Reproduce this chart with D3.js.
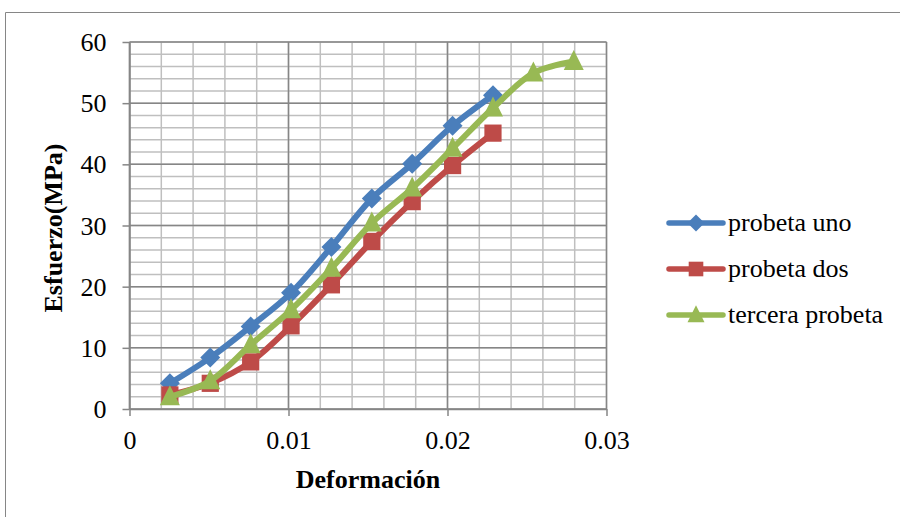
<!DOCTYPE html>
<html><head><meta charset="utf-8">
<script src="https://cdn.jsdelivr.net/npm/d3@7"></script>
<style>body{margin:0;background:#fff}svg{display:block}</style>
</head><body><svg id="c" width="900" height="517"></svg>
<script>
const xValues = [0.00254, 0.00508, 0.00762, 0.01016, 0.0127, 0.01524, 0.01778, 0.02032, 0.02286, 0.0254, 0.02794];
const seriesNames = ["probeta uno", "probeta dos", "tercera probeta"];
const probetaUno = [4.2, 8.4, 13.5, 19.0, 26.5, 34.4, 40.1, 46.3, 51.3];
const probetaDos = [2.3, 4.2, 7.7, 13.6, 20.3, 27.4, 33.9, 39.8, 45.1];
const terceraProbeta = [2.0, 4.6, 10.5, 16.2, 23.0, 30.4, 36.1, 42.6, 49.2, 54.9, 56.8];
const xTicks = [0, 0.01, 0.02, 0.03];
const yTicks = [0, 10, 20, 30, 40, 50, 60];
const colors = ["#4a7ebb", "#be4b48", "#98b954"];
const markers = ["diamond", "square", "triangle"];
const FONT = '"Liberation Serif", "Times New Roman", serif';

const svg = d3.select("#c");
svg.append("path").attr("d","M5.5,530V12.5H910").attr("fill","none").attr("stroke","#868686").attr("stroke-width",1);

const x = d3.scaleLinear().domain([0,0.03]).range([129.5,606.5]);
const y = d3.scaleLinear().domain([0,60]).range([409,42]);

const g = svg.append("g");
const xMinor = d3.range(0, 0.03001, 0.002);
const yMinor = d3.range(0, 60.001, 2);
g.selectAll(".vm").data(xMinor).join("line").attr("x1",d=>x(d)).attr("x2",d=>x(d)).attr("y1",y(0)).attr("y2",y(60)).attr("stroke","#bfbfbf").attr("stroke-width",1.5);
g.selectAll(".hm").data(yMinor).join("line").attr("y1",d=>y(d)).attr("y2",d=>y(d)).attr("x1",x(0)).attr("x2",x(0.03)).attr("stroke","#bfbfbf").attr("stroke-width",1.5);
g.selectAll(".vM").data(xTicks).join("line").attr("x1",d=>x(d)).attr("x2",d=>x(d)).attr("y1",y(0)).attr("y2",y(60)).attr("stroke","#868686").attr("stroke-width",1.5);
g.selectAll(".hM").data(yTicks).join("line").attr("y1",d=>y(d)).attr("y2",d=>y(d)).attr("x1",x(0)).attr("x2",x(0.03)).attr("stroke","#868686").attr("stroke-width",1.5);

const xAxis = d3.axisBottom(x).tickValues(xTicks).tickSize(7).tickSizeOuter(0).tickFormat(d=>d===0?"0":d3.format(".2f")(d));
const xa = svg.append("g").attr("transform",`translate(0,${y(0)})`).call(xAxis);
xa.attr("font-family",null).attr("font-size",null);
xa.select(".domain").attr("stroke","#868686").attr("stroke-width",1.5);
xa.selectAll(".tick line").attr("stroke","#868686").attr("stroke-width",1.5);
xa.selectAll(".tick text").style("font-family",FONT).style("font-size","26px").attr("fill","#000").attr("y",null).attr("dy",null).attr("transform","translate(0,40)");
const yAxis = d3.axisLeft(y).tickValues(yTicks).tickSize(7).tickSizeOuter(0);
const ya = svg.append("g").attr("transform",`translate(${x(0)},0)`).call(yAxis);
ya.attr("font-family",null).attr("font-size",null);
ya.select(".domain").attr("stroke","#868686").attr("stroke-width",1.5);
ya.selectAll(".tick line").attr("stroke","#868686").attr("stroke-width",1.5);
ya.selectAll(".tick text").style("font-family",FONT).style("font-size","26px").attr("fill","#000").attr("x",-23).attr("dy","0.33em");

svg.append("text").attr("x",368).attr("y",488).attr("text-anchor","middle").style("font-family",FONT).style("font-size","26px").attr("font-weight","bold").text("Deformación");
svg.append("text").attr("transform","translate(62,228) rotate(-90)").attr("text-anchor","middle").style("font-family",FONT).style("font-size","26px").attr("font-weight","bold").text("Esfuerzo(MPa)");

const data = [probetaUno, probetaDos, terceraProbeta];
const line = d3.line().x(d=>x(d[0])).y(d=>y(d[1])).curve(d3.curveCatmullRom.alpha(0.5));

function marker(sel, type, color, s){
  if(type==="diamond") sel.append("path").attr("d",`M0,${-s/2}L${s/2},0L0,${s/2}L${-s/2},0Z`).attr("fill",color);
  else if(type==="square") sel.append("rect").attr("x",-s*0.43).attr("y",-s*0.43).attr("width",s*0.86).attr("height",s*0.86).attr("fill",color);
  else sel.append("path").attr("d",`M0,${-s*0.58}L${s/2},${s*0.42}L${-s/2},${s*0.42}Z`).attr("fill",color);
}

data.forEach((vals,i)=>{
  const pts = vals.map((v,j)=>[xValues[j],v]);
  svg.append("path").datum(pts).attr("d",line).attr("fill","none").attr("stroke",colors[i]).attr("stroke-width",6).attr("stroke-linejoin","round").attr("stroke-linecap","round");
  pts.forEach(p=>{
    const m = svg.append("g").attr("transform",`translate(${x(p[0])},${y(p[1])})`);
    marker(m, markers[i], colors[i], 20);
  });
});

const legendY = [223, 269, 315];
seriesNames.forEach((n,i)=>{
  svg.append("line").attr("x1",669).attr("x2",723).attr("y1",legendY[i]).attr("y2",legendY[i]).attr("stroke",colors[i]).attr("stroke-width",5.5).attr("stroke-linecap","round");
  const m = svg.append("g").attr("transform",`translate(696,${legendY[i]})`);
  marker(m, markers[i], colors[i], 17);
  svg.append("text").attr("x",728).attr("y",legendY[i]+8).style("font-family",FONT).style("font-size","26px").text(n);
});
</script></body></html>
